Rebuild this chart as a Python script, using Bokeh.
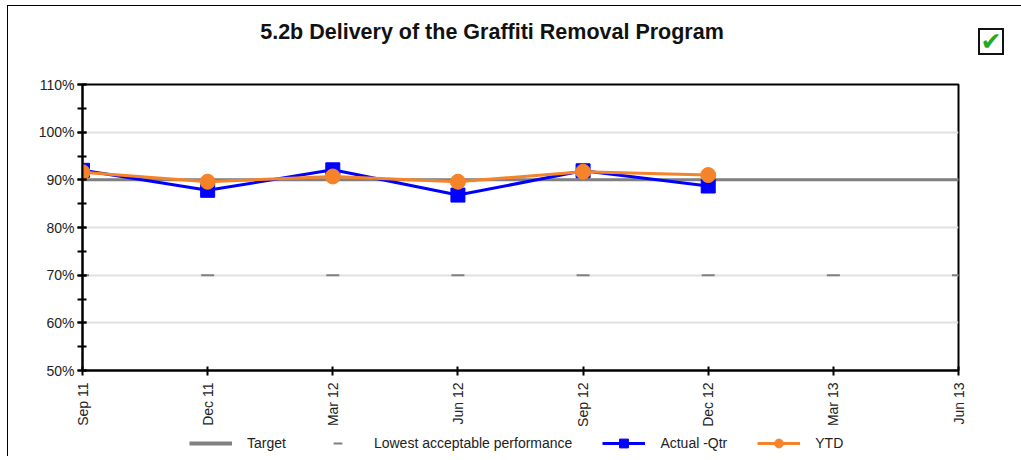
import math
from bokeh.plotting import figure
from bokeh.layouts import column, row
from bokeh.models import (Range1d, FixedTicker, SingleIntervalTicker, PrintfTickFormatter,
                          Legend, LegendItem, Label, ColumnDataSource, Div)
from bokeh.embed import file_html
from bokeh.resources import INLINE

# ---- data ----
quarters = ["Sep 11", "Dec 11", "Mar 12", "Jun 12", "Sep 12", "Dec 12", "Mar 13", "Jun 13"]
target = [90, 90, 90, 90, 90, 90, 90, 90]
lowest = [70, 70, 70, 70, 70, 70, 70, 70]
actual_qtr = [92.0, 87.8, 92.1, 86.8, 91.9, 88.7]
ytd = [91.6, 89.6, 90.7, 89.6, 91.7, 91.0]
title_text = "5.2b Delivery of the Graffiti Removal Program"
series_names = ["Target", "Lowest acceptable performance", "Actual -Qtr", "YTD"]

FONT = "Liberation Sans"
GRAY = "#808080"
BLUE = "#0000ff"
ORANGE = "#f5832a"
W = 1013
W_CHECK = 44
H_HEAD, H_MAIN, H_LEG = 68, 356, 26

x_all = list(range(len(quarters)))
x_act = x_all[:len(actual_qtr)]


def blank_fig(w, h):
    f = figure(width=w, height=h, output_backend="svg", toolbar_location=None,
               x_axis_location=None, y_axis_location=None,
               x_range=Range1d(0, 1), y_range=Range1d(0, 1),
               min_border=0, min_border_left=0, min_border_right=0,
               min_border_top=0, min_border_bottom=0, margin=0)
    f.grid.visible = False
    f.outline_line_color = None
    f.background_fill_color = "white"
    f.border_fill_color = "white"
    return f


# ---- header (title + status mark) ----
head = blank_fig(W - W_CHECK, H_HEAD)
head.add_layout(Label(x=483.5, y=25, x_units="canvas", y_units="canvas",
                      text=title_text, text_font=FONT, text_font_size="21.5px",
                      text_font_style="bold", text_color="#111111",
                      text_align="center", text_baseline="alphabetic"))
check = Div(width=W_CHECK, height=H_HEAD, margin=0,
            text=('<div style="box-sizing:border-box;width:26px;height:27px;margin-top:22px;'
                  'margin-left:1px;border:2px solid #111;background:#fff;display:flex;'
                  'align-items:center;justify-content:center;'
                  "font-family:'DejaVu Sans';font-size:25px;line-height:23px;"
                  'color:#22aa22;">&#x2714;</div>'))

# ---- main chart ----
p = figure(width=W, height=H_MAIN, output_backend="svg", toolbar_location=None,
           x_range=Range1d(0, len(quarters) - 1), y_range=Range1d(50, 110), margin=0,
           min_border_left=74, min_border_right=63, min_border_top=10, min_border_bottom=60)
p.background_fill_color = "white"
p.border_fill_color = "white"
p.outline_line_color = "black"
p.outline_line_width = 2

p.xaxis.ticker = FixedTicker(ticks=x_all)
p.xaxis.major_label_overrides = {i: q for i, q in enumerate(quarters)}
p.xaxis.major_label_orientation = math.pi / 2
p.yaxis.ticker = SingleIntervalTicker(interval=10, num_minor_ticks=2)
p.yaxis.formatter = PrintfTickFormatter(format="%d%%")
for ax in (p.xaxis, p.yaxis):
    ax.axis_line_color = "black"
    ax.axis_line_width = 2
    ax.major_tick_line_color = "black"
    ax.major_tick_line_width = 2
    ax.minor_tick_line_color = "black"
    ax.minor_tick_line_width = 2
    ax.major_tick_in = 4
    ax.major_tick_out = 5
    ax.minor_tick_in = 4
    ax.minor_tick_out = 5
    ax.major_label_text_font = FONT
    ax.major_label_text_font_size = "14px"
    ax.major_label_text_color = "#222222"
p.xaxis.major_label_standoff = 7
p.yaxis.major_label_standoff = 3
p.xgrid.grid_line_color = None
p.ygrid.grid_line_color = "#e0e0e0"
p.ygrid.grid_line_width = 2

src_all = ColumnDataSource(dict(x=x_all, target=target, lowest=lowest))
src_act = ColumnDataSource(dict(x=x_act, actual=actual_qtr, ytd=ytd))

p.line("x", "target", source=src_all, line_color=GRAY, line_width=3)
p.scatter("x", "lowest", source=src_all, marker="dash", size=13, line_color=GRAY, line_width=2)
p.line("x", "actual", source=src_act, line_color=BLUE, line_width=3)
p.scatter("x", "actual", source=src_act, marker="square", size=14,
          fill_color=BLUE, line_color=BLUE)
p.line("x", "ytd", source=src_act, line_color=ORANGE, line_width=3)
p.scatter("x", "ytd", source=src_act, marker="circle", size=15,
          fill_color=ORANGE, line_color=ORANGE)

# ---- legend strip (renderers hold a single NaN point, so only their legend glyphs show) ----
leg = blank_fig(W, H_LEG)
nan_src = ColumnDataSource(dict(x=[float("nan")], y=[float("nan")]))
l_target = leg.line("x", "y", source=nan_src, line_color=GRAY, line_width=4)
l_lowest = leg.scatter("x", "y", source=nan_src, marker="dash", size=10, line_color=GRAY, line_width=2)
l_act_l = leg.line("x", "y", source=nan_src, line_color=BLUE, line_width=3)
l_act_m = leg.scatter("x", "y", source=nan_src, marker="square", size=9, fill_color=BLUE, line_color=BLUE)
l_ytd_l = leg.line("x", "y", source=nan_src, line_color=ORANGE, line_width=3)
l_ytd_m = leg.scatter("x", "y", source=nan_src, marker="circle", size=9, fill_color=ORANGE, line_color=ORANGE)

legend = Legend(items=[
    LegendItem(label=series_names[0], renderers=[l_target]),
    LegendItem(label=series_names[1], renderers=[l_lowest]),
    LegendItem(label=series_names[2], renderers=[l_act_l, l_act_m]),
    LegendItem(label=series_names[3], renderers=[l_ytd_l, l_ytd_m]),
], orientation="horizontal", location=(107, 2))
legend.label_text_font = FONT
legend.label_text_font_size = "14px"
legend.label_text_color = "#222222"
legend.glyph_width = 43
legend.glyph_height = 22
legend.label_height = 16
legend.label_standoff = 15
legend.spacing = 30
legend.padding = 0
legend.margin = 0
legend.border_line_color = None
legend.background_fill_alpha = 0
leg.add_layout(legend)

layout = column(row(head, check, spacing=0, margin=0), p, leg, spacing=0, margin=(5, 0, 0, 7),
                styles={"border-left": "1px solid #000", "border-top": "1px solid #000"})

open("out.html", "w").write(file_html(layout, INLINE))
